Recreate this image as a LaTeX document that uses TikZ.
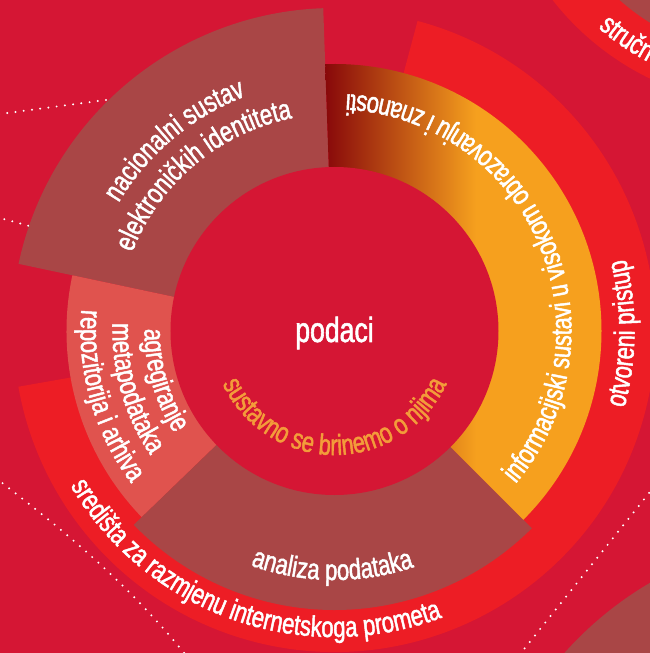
\documentclass[tikz,border=0pt]{standalone}
\usepackage{fontspec}
\setmainfont{Liberation Sans}[FakeStretch=0.76,FakeBold=1.6]
\usetikzlibrary{decorations.text}
\definecolor{bgred}{RGB}{213,22,52}
\definecolor{bandred}{RGB}{237,29,37}
\definecolor{segbrown}{RGB}{169,70,70}
\definecolor{segcoral}{RGB}{224,83,78}
\definecolor{segorange}{RGB}{246,160,30}
\definecolor{segdark}{RGB}{136,8,10}
\definecolor{txtorange}{RGB}{243,156,58}
\pgfdeclarehorizontalshading{infograd}{100bp}{color(0bp)=(segdark); color(25bp)=(segdark); color(50bp)=(segorange); color(100bp)=(segorange)}
\newcommand{\wlab}{\fontsize{29}{29}\selectfont\color{white}}
\newcommand{\olab}{\fontsize{29}{29}\selectfont\color{txtorange}}

\begin{document}
\begin{tikzpicture}
  [x=1pt,y=1pt,
   lab/.style={decorate,decoration={text along path,text align=center,text={#1}}},
   dots/.style={white,line width=2.2pt,line cap=round,dash pattern=on 0pt off 8.3pt}]
  \useasboundingbox (-334.5,-322) rectangle (315.5,331);
  \clip (-334.5,-322) rectangle (315.5,331);
  \fill[bgred] (-334.5,-322) rectangle (315.5,331);

  \coordinate (hub) at (0,0);
  \coordinate (hubtr) at (435.5,501);
  \coordinate (hubbr) at (495.5,-559);
  \fill[segbrown] (hubbr) circle[radius=356pt];
  \fill[bandred] (hubtr) circle[radius=276pt];
  \fill[segbrown] (hubtr) circle[radius=227pt];
  \path[decorate,decoration={text along path,text={|\wlab|stručn}}]
    (263.6,303.3) arc[start angle=229,end angle=262,radius=262pt];

  \coordinate (ul1a) at (-228.5,231);
  \coordinate (ul1b) at (-340,216.3);
  \coordinate (ul2a) at (-306.2,105.3);
  \coordinate (ul2b) at (-340,114.5);
  \coordinate (bl1) at (-345,-142);
  \coordinate (bl2) at (-140,-335);
  \coordinate (br1) at (325,-149);
  \coordinate (br2) at (180,-330);
  \draw[dots] (ul1a) -- (ul1b);
  \draw[dots] (ul2a) -- (ul2b);
  \draw[dots] (bl1) .. controls (-290,-185) and (-210,-245) .. (bl2);
  \draw[dots] (br1) -- (br2);

  \fill[bandred] (hub) -- (75:321pt) arc[start angle=75,end angle=-170,radius=321pt] -- cycle;
  \fill[segbrown] (hub) -- (92:323pt) arc[start angle=92,end angle=168,radius=323pt] -- cycle;
  \fill[segcoral] (hub) -- (168:268pt) arc[start angle=168,end angle=224,radius=268pt] -- cycle;
  \fill[segbrown] (hub) -- (224:279pt) arc[start angle=224,end angle=315,radius=279pt] -- cycle;
  \shade[shading=infograd] (hub) -- (-45:267pt) arc[start angle=-45,end angle=92,radius=267pt] -- cycle;
  \fill[bgred] (hub) circle[radius=164pt];

  \node (core) at (0,-11) [anchor=base,white,font=\fontsize{35}{35}\selectfont] {podaci};
  \path[lab={|\olab|sustavno se brinemo o njima}] (200:124pt) arc[start angle=200,end angle=340,radius=124pt];
  \path[lab={|\wlab|analiza podataka}] (224:249pt) arc[start angle=224,end angle=315,radius=249pt];
  \path[lab={|\wlab|informacijski sustavi u visokom obrazovanju i znanosti}] (-45:237pt) arc[start angle=-45,end angle=92,radius=237pt];
  \path[lab={|\wlab|otvoreni pristup}] (-60:300pt) arc[start angle=-60,end angle=59,radius=300pt];
  \path[lab={|\wlab|središta za razmjenu internetskoga prometa}] (190:306pt) arc[start angle=190,end angle=311,radius=306pt];
  \path[lab={|\wlab|nacionalni sustav}] (168:251pt) arc[start angle=168,end angle=92,radius=251pt];
  \path[lab={|\wlab|elektroničkih identiteta}] (168:217pt) arc[start angle=168,end angle=92,radius=217pt];
  \path[lab={|\wlab|agregiranje}] (168:190pt) arc[start angle=168,end angle=224,radius=190pt];
  \path[lab={|\wlab|metapodataka}] (168:222pt) arc[start angle=168,end angle=224,radius=222pt];
  \path[lab={|\wlab|repozitorija i arhiva}] (168:254pt) arc[start angle=168,end angle=224,radius=254pt];
\end{tikzpicture}
\end{document}
